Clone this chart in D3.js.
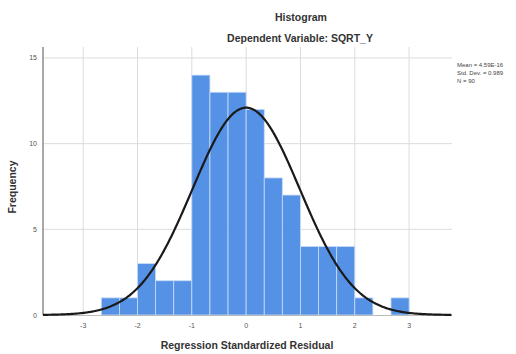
<!DOCTYPE html>
<html><head><meta charset="utf-8">
<script src="https://cdn.jsdelivr.net/npm/d3@7"></script>
<style>body{margin:0;background:#fff}</style>
</head><body>
<svg id="c" width="516" height="354"></svg>
<script>
const binStarts = [-8,-7,-6,-5,-4,-3,-2,-1,0,1,2,3,4,5,6,7,8].map(k=>k/3);
const binCounts = [1,1,3,2,2,14,13,13,12,8,7,4,4,4,1,0,1];
const xTicks = [-3,-2,-1,0,1,2,3];
const yTicks = [0,5,10,15];
const mean = 4.59e-16, sd = 0.989, N = 90;
const statsText = ["Mean = 4.59E-16","Std. Dev. = 0.989","N = 90"];

const svg = d3.select("#c");
const L=43,R=452,T=47,B=315;
const x = d3.scaleLinear().domain([-3.74,3.79]).range([L,R]);
const y = d3.scaleLinear().domain([0,15.64]).range([B,T]);
const bw = 1/3;

// gridlines
svg.append("g").selectAll("line").data(xTicks).join("line")
  .attr("x1",d=>x(d)).attr("x2",d=>x(d)).attr("y1",T).attr("y2",B)
  .attr("stroke","#dcdcdc").attr("stroke-width",1);
svg.append("g").selectAll("line").data(yTicks.filter(d=>d>0)).join("line")
  .attr("x1",L).attr("x2",R).attr("y1",d=>y(d)).attr("y2",d=>y(d))
  .attr("stroke","#dcdcdc").attr("stroke-width",1);

// bars
svg.append("g").selectAll("rect").data(binStarts.map((s,i)=>({s,c:binCounts[i]})).filter(d=>d.c>0)).join("rect")
  .attr("x",d=>x(d.s)).attr("width",d=>x(d.s+bw)-x(d.s))
  .attr("y",d=>y(d.c)).attr("height",d=>y(0)-y(d.c))
  .attr("fill","#5592e6").attr("stroke","#c9dcf6").attr("stroke-width",0.8);

// axes lines
svg.append("line").attr("x1",L).attr("x2",L).attr("y1",T).attr("y2",B).attr("stroke","#555").attr("stroke-width",1);
svg.append("line").attr("x1",L).attr("x2",R).attr("y1",B+0.5).attr("y2",B+0.5).attr("stroke","#bbb").attr("stroke-width",1);

// normal curve
const pts = d3.range(-3.74,3.79,0.02).map(v=>[v, N*bw*Math.exp(-0.5*((v-mean)/sd)**2)/(sd*Math.sqrt(2*Math.PI))]);
svg.append("path").datum(pts)
  .attr("d",d3.line().x(d=>x(d[0])).y(d=>y(d[1])).curve(d3.curveBasis))
  .attr("fill","none").attr("stroke","#1a1a1a").attr("stroke-width",2.2);

// tick labels
svg.append("g").selectAll("text").data(xTicks).join("text")
  .attr("x",d=>x(d)).attr("y",328).attr("text-anchor","middle")
  .attr("font-family","Arial, Liberation Sans, sans-serif").attr("font-size",7).attr("fill","#555")
  .text(d=>d);
svg.append("g").selectAll("text").data(yTicks).join("text")
  .attr("x",37).attr("y",d=>y(d)+2.5).attr("text-anchor","end")
  .attr("font-family","Arial, Liberation Sans, sans-serif").attr("font-size",7).attr("fill","#555")
  .text(d=>d);

// titles
const f="Liberation Sans, Arial, sans-serif";
svg.append("text").attr("x",301).attr("y",21).attr("text-anchor","middle")
  .attr("font-family",f).attr("font-size",10.5).attr("font-weight","bold").attr("fill","#333").text("Histogram");
svg.append("text").attr("x",300).attr("y",42).attr("text-anchor","middle")
  .attr("font-family",f).attr("font-size",10.5).attr("font-weight","bold").attr("fill","#333").text("Dependent Variable: SQRT_Y");
svg.append("text").attr("x",247).attr("y",349).attr("text-anchor","middle")
  .attr("font-family",f).attr("font-size",10.5).attr("font-weight","bold").attr("fill","#333").text("Regression Standardized Residual");
svg.append("text").attr("transform","translate(16,187) rotate(-90)").attr("text-anchor","middle")
  .attr("font-family",f).attr("font-size",10.5).attr("font-weight","bold").attr("fill","#333").text("Frequency");

// stats
svg.append("g").selectAll("text").data(statsText).join("text")
  .attr("x",457).attr("y",(d,i)=>67+i*8)
  .attr("font-family",f).attr("font-size",6).attr("fill","#444").text(d=>d);
</script>
</body></html>
